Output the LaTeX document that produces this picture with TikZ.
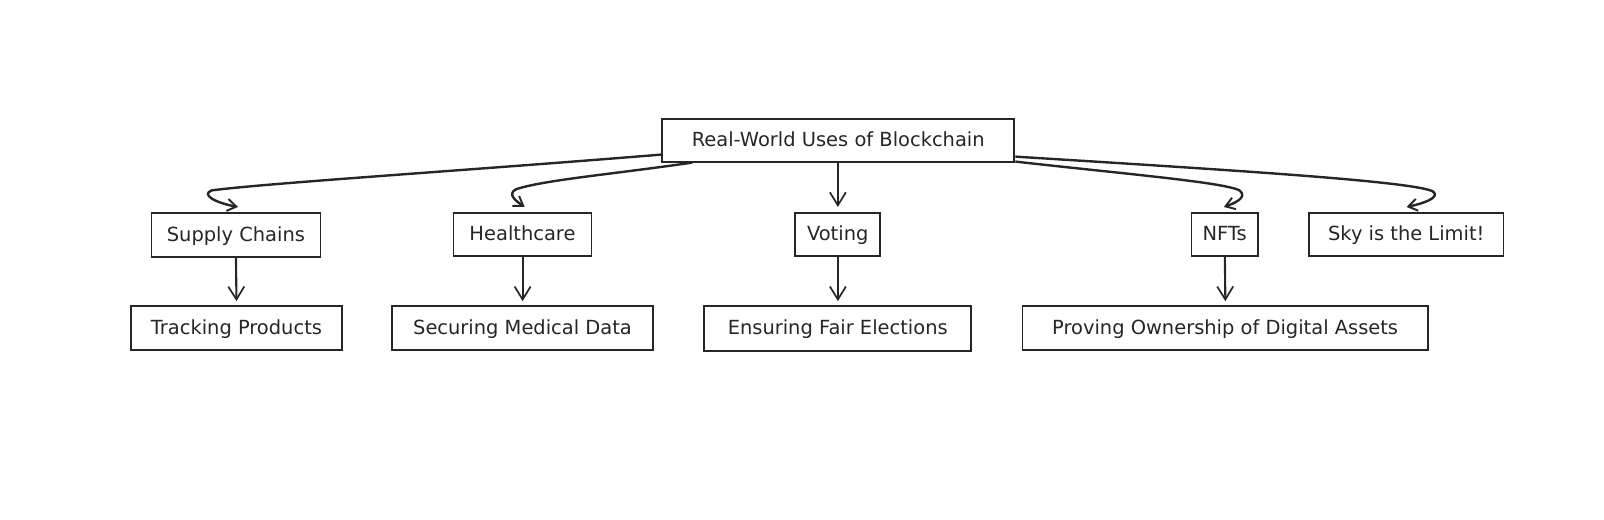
\documentclass[tikz,border=0pt]{standalone}
\usepackage{fontspec}
\setmainfont{DejaVu Sans}
\usetikzlibrary{arrows.meta,calc}
\begin{document}
\begin{tikzpicture}[x=1pt,y=-1pt,scale=1.0235,every node/.style={transform shape},
  box/.style={draw=black!85,line width=1.7pt,fill=white,inner sep=0pt,
    font=\fontsize{19}{21}\selectfont,text=black!85,text height=15.5pt,text depth=3.5pt},
  conn/.style={draw=black!85,line width=2.1pt,
    -{Straight Barb[length=13pt,width=16pt,line width=1.7pt]}},
  hook/.style={draw=black!85,line width=2.4pt,
    -{Straight Barb[length=9pt,width=12pt,line width=1.9pt]}}]
\useasboundingbox (0,0) rectangle (1567.2,507.1);
\node[box,minimum width=344pt,minimum height=42pt] (root) at (819,137) {Real-World Uses of Blockchain};
\node[box,minimum width=165pt,minimum height=43pt] (sc) at (230.5,229.5) {Supply Chains};
\node[box,minimum width=135pt,minimum height=42pt] (hc) at (510.5,229) {Healthcare};
\node[box,minimum width=83pt,minimum height=42pt] (vo) at (818.5,229) {Voting};
\node[box,minimum width=65pt,minimum height=42pt] (nf) at (1196.5,229) {NFTs};
\node[box,minimum width=190pt,minimum height=42pt] (sk) at (1374,229) {Sky is the Limit!};
\node[box,minimum width=206pt,minimum height=43pt] (tp) at (231,320.5) {Tracking Products};
\node[box,minimum width=255pt,minimum height=43pt] (sm) at (510.5,320.5) {Securing Medical Data};
\node[box,minimum width=261pt,minimum height=44pt] (ef) at (818.5,321) {Ensuring Fair Elections};
\node[box,minimum width=396pt,minimum height=43pt] (po) at (1197,320.5) {Proving Ownership of Digital Assets};
% root to children
\draw[hook] ([yshift=-14pt]root.west) .. controls (450,167) and (260,179) .. (207,186)
  .. controls (196,190) and (210,198) .. ([xshift=2pt,yshift=5pt]sc.north);
\draw[hook] ([xshift=30pt]root.south west) .. controls (600,170) and (530,176) .. (504,185)
  .. controls (495,190) and (505,197) .. ([xshift=2pt,yshift=5pt]hc.north);
\draw[conn] (root.south -| vo.north) -- ([yshift=5pt]vo.north);
\draw[hook] ([yshift=1pt]root.south east) .. controls (1100,170) and (1195,178) .. (1211,186)
  .. controls (1220,193) and (1205,199) .. ([xshift=-1pt,yshift=5pt]nf.north);
\draw[hook] ([yshift=-16pt]root.east) .. controls (1200,166) and (1380,177) .. (1400,187)
  .. controls (1408,193) and (1390,199) .. ([yshift=5pt]sk.north);
% children to grandchildren
\draw[conn] (sc.south) -- ([yshift=4pt]tp.north);
\draw[conn] (hc.south) -- ([yshift=4pt]sm.north);
\draw[conn] (vo.south) -- ([yshift=4pt]ef.north);
\draw[conn] (nf.south) -- ([yshift=4pt]po.north);
\end{tikzpicture}
\end{document}
